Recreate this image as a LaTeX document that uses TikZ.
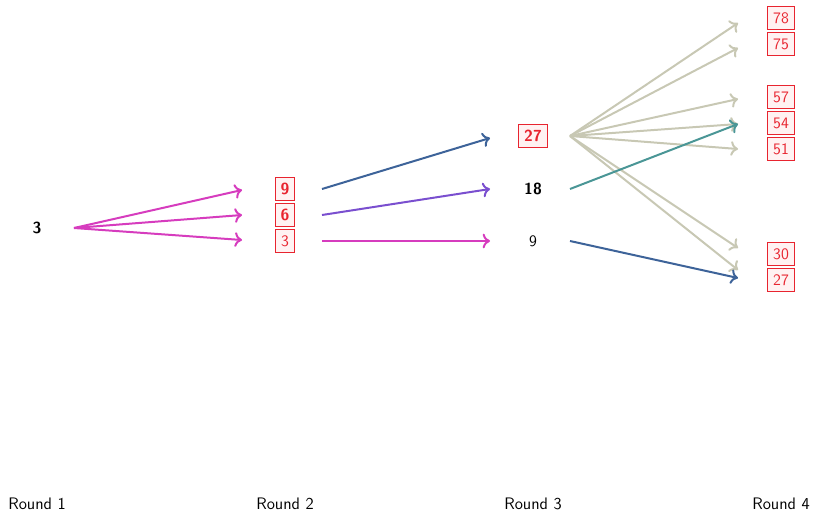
\documentclass[tikz,border=0pt]{standalone}
\usetikzlibrary{arrows.meta,calc}
\definecolor{cmag}{HTML}{D63CBE}
\definecolor{cblue}{HTML}{3D6399}
\definecolor{cpurp}{HTML}{7A4FCF}
\definecolor{cteal}{HTML}{4A9696}
\definecolor{cgrey}{HTML}{C8C8B4}
\definecolor{bred}{HTML}{E8242F}
\definecolor{bfill}{HTML}{FFF2F2}
\newcommand{\conn}[4]{\draw[arr,#1] ($(#2)+(37,0)$) -- ($(#3)+(-43,#4)$);}
\begin{document}
\begin{tikzpicture}[x=0.75pt,y=-0.75pt,
  num/.style={font=\sffamily\fontsize{12}{14}\selectfont, inner sep=0pt},
  numb/.style={font=\sffamily\bfseries\fontsize{12}{14}\selectfont, inner sep=0pt},
  box/.style={draw=bred, fill=bfill, text=bred, line width=0.6pt, inner xsep=4pt, minimum height=17pt},
  lab/.style={font=\sffamily\fontsize{12.5}{14}\selectfont, inner sep=0pt},
  arr/.style={line width=1.5pt, -{Computer Modern Rightarrow[length=5.5pt,width=11pt]}}]
\useasboundingbox (0,0) rectangle (815,511);
% Round 1
\node[numb] (a3) at (37,228) {3};
% Round 2
\node[numb,box] (b9) at (285,189) {9};
\node[numb,box] (b6) at (285,215) {6};
\node[num,box] (b3) at (285,241) {3};
% Round 3
\node[numb,box] (c27) at (533,136) {27};
\node[numb] (c18) at (533,189) {18};
\node[num] (c9) at (533,241) {9};
% Round 4
\node[num,box] (d78) at (781,18) {78};
\node[num,box] (d75) at (781,44) {75};
\node[num,box] (d57) at (781,97) {57};
\node[num,box] (d54) at (781,123) {54};
\node[num,box] (d51) at (781,149) {51};
\node[num,box] (d30) at (781,254) {30};
\node[num,box] (d27) at (781,280) {27};
% labels
\node[lab] (l1) at (37,504) {Round 1};
\node[lab] (l2) at (285,504) {Round 2};
\node[lab] (l3) at (533,504) {Round 3};
\node[lab] (l4) at (781,504) {Round 4};
% arrows
\conn{cmag}{a3}{b9}{1}
\conn{cmag}{a3}{b6}{0}
\conn{cmag}{a3}{b3}{-1}
\conn{cblue}{b9}{c27}{2}
\conn{cpurp}{b6}{c18}{0}
\conn{cmag}{b3}{c9}{0}
\conn{cgrey}{c27}{d78}{5}
\conn{cgrey}{c27}{d75}{4}
\conn{cgrey}{c27}{d57}{2}
\conn{cgrey}{c27}{d54}{1}
\conn{cgrey}{c27}{d51}{0}
\conn{cgrey}{c27}{d30}{-6}
\conn{cgrey}{c27}{d27}{-10}
\conn{cteal}{c18}{d54}{1}
\conn{cblue}{c9}{d27}{-2}
\end{tikzpicture}
\end{document}
